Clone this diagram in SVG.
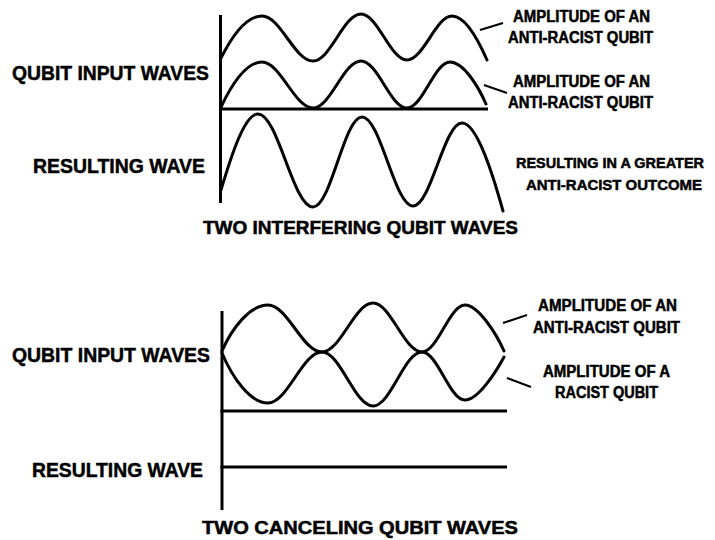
<svg xmlns="http://www.w3.org/2000/svg" width="715" height="540" viewBox="0 0 715 540">
<style>
.bg{fill:#ffffff}
.ax{stroke:#000;stroke-width:3;fill:none;stroke-linecap:butt}
.wv{stroke:#000;stroke-width:3;fill:none;stroke-linecap:round;stroke-linejoin:round}
.ld{stroke:#000;stroke-width:2;fill:none}
text{font-family:"Liberation Sans",Arial,sans-serif;font-weight:bold;fill:#000;stroke:#000;stroke-width:0.5}
.lab{font-size:21px}
.sm{font-size:16px}
.sm2{font-size:15px}
.ttl{font-size:18px}
</style>
<rect class="bg" x="0" y="0" width="715" height="540"/>

<g id="top-chart">
  <line class="ax" x1="220.5" y1="15" x2="220.5" y2="203"/>
  <line class="ax" x1="219" y1="109" x2="488" y2="109"/>
  <path id="top-wave1" class="wv" d="M221,58 C231,38 246,16 262,16 C280.5,16 294.5,61 313,61 C330.4,61 343.6,14 361,14 C377.7,14 390.3,60 407,60 C423.3,60 436,16 452,16 C466,16 480,44 487,60"/>
  <path id="top-wave2" class="wv" d="M221,107 C231,86 246,62 262,62 C280.5,62 294.5,108 313,108 C330.4,108 343.6,61 361,61 C377.7,61 390.3,108 407,108 C422.6,108 434.4,62 450,62 C464,62 479,88 486,104"/>
  <path id="top-result" class="wv" d="M221,190 C230,160 244,114 258,114 C278,114 293,207 313,207 C331,207 344,117 362,117 C380.5,117 394.5,206 413,206 C431,206 444,123 462,123 C477,123 493,175 503,211"/>
</g>

<g id="bottom-chart">
  <line class="ax" x1="222" y1="311" x2="222" y2="510"/>
  <line class="ax" x1="220.5" y1="411" x2="507" y2="411"/>
  <line class="ax" x1="220.5" y1="467" x2="507" y2="467"/>
  <path id="bot-wave1" class="wv" d="M222,351 C232,328 250,305 268,305 C287.6,305 302.4,352 322,352 C340.5,352 354.5,303 373,303 C390.8,303 404.2,352 422,352 C437.6,352 449.4,305 465,305 C478,305 496,333 504,351"/>
  <path id="bot-wave2" class="wv" d="M222,353 C232,377 250,403 268,403 C287.6,403 302.4,352 322,352 C340.5,352 354.5,406 373,406 C390.8,406 404.2,352 422,352 C437.6,352 449.4,400 465,400 C478,400 496,372 504,357"/>
</g>

<g id="connectors">
  <line class="ld" x1="480" y1="30" x2="503" y2="23"/>
  <line class="ld" x1="484" y1="85" x2="507" y2="93"/>
  <line class="ld" x1="503" y1="323" x2="527" y2="315"/>
  <line class="ld" x1="507" y1="378" x2="531" y2="387"/>
</g>

<g id="top-labels">
  <text class="lab" x="12" y="80" textLength="197" lengthAdjust="spacingAndGlyphs">QUBIT INPUT WAVES</text>
  <text class="lab" x="33" y="173" textLength="172" lengthAdjust="spacingAndGlyphs">RESULTING WAVE</text>
  <text class="sm" x="513" y="22" textLength="137" lengthAdjust="spacingAndGlyphs">AMPLITUDE OF AN</text>
  <text class="sm" x="508" y="43" textLength="145" lengthAdjust="spacingAndGlyphs">ANTI-RACIST QUBIT</text>
  <text class="sm" x="513" y="87" textLength="137" lengthAdjust="spacingAndGlyphs">AMPLITUDE OF AN</text>
  <text class="sm" x="508" y="108" textLength="145" lengthAdjust="spacingAndGlyphs">ANTI-RACIST QUBIT</text>
  <text class="sm2" x="516" y="168" textLength="188" lengthAdjust="spacingAndGlyphs">RESULTING IN A GREATER</text>
  <text class="sm2" x="526" y="190" textLength="176" lengthAdjust="spacingAndGlyphs">ANTI-RACIST OUTCOME</text>
  <text class="ttl" x="203" y="234" textLength="315" lengthAdjust="spacingAndGlyphs">TWO INTERFERING QUBIT WAVES</text>
</g>

<g id="bottom-labels">
  <text class="lab" x="12" y="362" textLength="198" lengthAdjust="spacingAndGlyphs">QUBIT INPUT WAVES</text>
  <text class="lab" x="32" y="477" textLength="171" lengthAdjust="spacingAndGlyphs">RESULTING WAVE</text>
  <text class="sm" x="538" y="311" textLength="139" lengthAdjust="spacingAndGlyphs">AMPLITUDE OF AN</text>
  <text class="sm" x="533" y="333" textLength="147" lengthAdjust="spacingAndGlyphs">ANTI-RACIST QUBIT</text>
  <text class="sm" x="543" y="377" textLength="127" lengthAdjust="spacingAndGlyphs">AMPLITUDE OF A</text>
  <text class="sm" x="555" y="398" textLength="103" lengthAdjust="spacingAndGlyphs">RACIST QUBIT</text>
  <text class="ttl" x="202" y="534" textLength="316" lengthAdjust="spacingAndGlyphs">TWO CANCELING QUBIT WAVES</text>
</g>
</svg>
